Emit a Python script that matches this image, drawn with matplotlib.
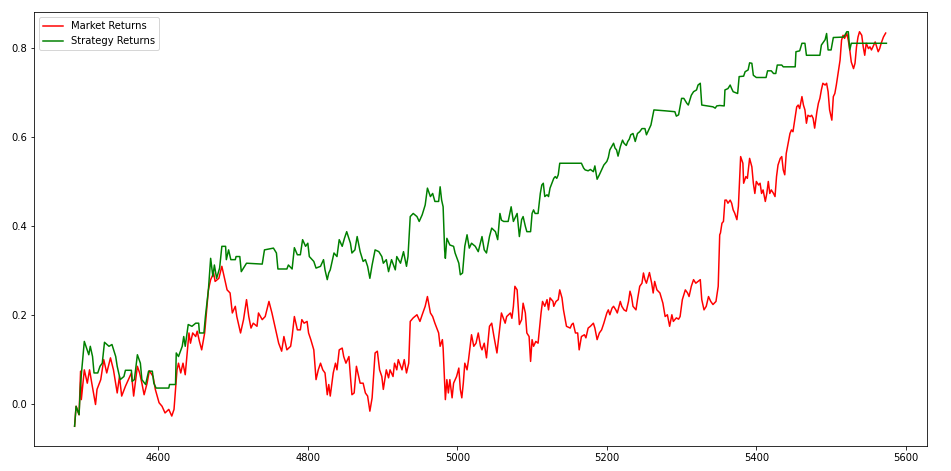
import matplotlib
matplotlib.use("Agg")
import matplotlib.pyplot as plt

# Cumulative returns (day index, return)
strategy_x = [
    4488, 4490, 4494, 4496, 4501, 4507, 4509, 4512, 4514, 4519,
    4522, 4525, 4528, 4534, 4538, 4543, 4545, 4549, 4554, 4556,
    4564, 4565, 4568, 4572, 4576, 4578, 4583, 4587, 4592, 4594,
    4597, 4614, 4615, 4623, 4624, 4627, 4632, 4634, 4636, 4640,
    4645, 4650, 4654, 4655, 4661, 4663, 4665, 4667, 4670, 4673,
    4675, 4678, 4682, 4685, 4690, 4691, 4694, 4697, 4703, 4704,
    4709, 4711, 4714, 4718, 4739, 4742, 4754, 4758, 4760, 4772,
    4774, 4779, 4782, 4786, 4790,
    4793, 4797, 4800, 4802, 4808, 4811, 4817, 4821, 4823, 4826,
    4828, 4830, 4835, 4839, 4842, 4846, 4849, 4852, 4857, 4859,
    4863, 4866, 4870, 4874, 4877, 4880, 4883, 4886, 4890, 4895,
    4899, 4901, 4905, 4908, 4912, 4917, 4919, 4924, 4928, 4932,
    4934, 4937, 4941, 4946, 4949, 4953, 4957, 4960, 4964, 4967,
    4970, 4975, 4977, 4979, 4981, 4983, 4984, 4986, 4990, 4995,
    4997, 5002, 5004, 5007, 5010, 5013, 5016, 5019, 5024, 5028,
    5033, 5036, 5039, 5043, 5046, 5051, 5054, 5057, 5059, 5062,
    5068, 5072, 5075, 5080, 5083,
    5086, 5088, 5091, 5093, 5098, 5100, 5102, 5104, 5108, 5111,
    5113, 5115, 5117, 5120, 5122, 5124, 5129, 5131, 5133, 5135,
    5137, 5166, 5169, 5171, 5175, 5178, 5182, 5184, 5187, 5190,
    5193, 5196, 5200, 5202, 5204, 5209, 5211, 5213, 5215, 5218,
    5221, 5223, 5226, 5228, 5230, 5232, 5235, 5238, 5241, 5244,
    5247, 5251, 5253, 5256, 5259, 5261, 5263, 5278, 5291, 5293,
    5296, 5298, 5300, 5303, 5307, 5309, 5311, 5313, 5316, 5320,
    5322, 5325, 5327, 5342, 5345, 5347, 5351,
    5357, 5358, 5362, 5365, 5367, 5369, 5375, 5377, 5383, 5385,
    5389, 5391, 5394, 5396, 5400, 5413, 5415, 5420, 5423, 5426,
    5428, 5434, 5436, 5452, 5453, 5458, 5461, 5465, 5467, 5485,
    5487, 5490, 5492, 5494, 5496, 5500, 5503, 5517, 5521, 5523,
    5525, 5527, 5574,
]
strategy_y = [
    -0.051, -0.006, -0.025, 0.046, 0.140, 0.110, 0.129, 0.106, 0.069, 0.069,
    0.084, 0.091, 0.138, 0.129, 0.133, 0.106, 0.084, 0.054, 0.061, 0.075,
    0.075, 0.050, 0.054, 0.110, 0.091, 0.054, 0.043, 0.073, 0.073, 0.046,
    0.035, 0.035, 0.043, 0.043, 0.114, 0.106, 0.129, 0.151, 0.129, 0.178,
    0.174, 0.181, 0.181, 0.159, 0.159, 0.196, 0.226, 0.256, 0.327, 0.286,
    0.312, 0.282, 0.305, 0.354, 0.354, 0.324, 0.346, 0.324, 0.324, 0.331,
    0.331, 0.297, 0.305, 0.316, 0.314, 0.346, 0.350, 0.339, 0.303, 0.303,
    0.312, 0.303, 0.351, 0.335, 0.335,
    0.369, 0.354, 0.361, 0.331, 0.320, 0.305, 0.309, 0.324, 0.301, 0.279,
    0.294, 0.301, 0.339, 0.331, 0.369, 0.354, 0.372, 0.387, 0.361, 0.339,
    0.346, 0.376, 0.342, 0.320, 0.324, 0.309, 0.282, 0.312, 0.346, 0.342,
    0.331, 0.316, 0.324, 0.297, 0.324, 0.301, 0.331, 0.316, 0.342, 0.309,
    0.331, 0.421, 0.428, 0.421, 0.410, 0.425, 0.447, 0.485, 0.466, 0.473,
    0.455, 0.455, 0.488, 0.458, 0.443, 0.346, 0.327, 0.372, 0.357, 0.354,
    0.339, 0.316, 0.290, 0.294, 0.354, 0.380, 0.350, 0.361, 0.354, 0.342,
    0.376, 0.346, 0.339, 0.376, 0.395, 0.387, 0.369, 0.428, 0.413, 0.410,
    0.410, 0.443, 0.410, 0.428, 0.376,
    0.414, 0.421, 0.399, 0.387, 0.387, 0.428, 0.436, 0.428, 0.428, 0.473,
    0.492, 0.496, 0.466, 0.470, 0.466, 0.485, 0.507, 0.511, 0.507, 0.515,
    0.541, 0.541, 0.530, 0.526, 0.524, 0.527, 0.522, 0.535, 0.505, 0.515,
    0.526, 0.537, 0.545, 0.554, 0.571, 0.586, 0.575, 0.571, 0.557, 0.578,
    0.593, 0.586, 0.581, 0.590, 0.595, 0.605, 0.608, 0.590, 0.608, 0.612,
    0.619, 0.619, 0.605, 0.616, 0.627, 0.644, 0.661, 0.659, 0.657, 0.647,
    0.650, 0.668, 0.687, 0.687, 0.676, 0.672, 0.683, 0.694, 0.702, 0.706,
    0.717, 0.721, 0.672, 0.668, 0.665, 0.670, 0.671,
    0.670, 0.706, 0.709, 0.717, 0.709, 0.702, 0.698, 0.736, 0.737, 0.747,
    0.751, 0.767, 0.766, 0.739, 0.734, 0.734, 0.749, 0.749, 0.743, 0.743,
    0.762, 0.762, 0.758, 0.758, 0.792, 0.794, 0.811, 0.811, 0.784, 0.784,
    0.807, 0.814, 0.819, 0.833, 0.796, 0.796, 0.824, 0.825, 0.837, 0.837,
    0.796, 0.811, 0.811,
]

market_x = [
    4488, 4490, 4494, 4496, 4497, 4501, 4505, 4508, 4511, 4516,
    4518, 4523, 4527, 4531, 4536, 4540, 4545, 4548, 4551, 4556,
    4560, 4564, 4567, 4572, 4575, 4578, 4581, 4585, 4588, 4593,
    4596, 4601, 4605, 4609, 4614, 4618, 4621, 4625, 4627, 4630,
    4633, 4636, 4641, 4643, 4646, 4650, 4652, 4655, 4658, 4662,
    4667, 4670, 4674, 4676, 4681, 4685, 4688, 4692, 4696, 4699,
    4703, 4705, 4710, 4714, 4718, 4721, 4724, 4727, 4732, 4734,
    4739, 4743, 4748, 4752, 4756, 4761, 4765, 4768, 4772, 4777,
    4779, 4782, 4786, 4790,
    4792, 4795, 4799, 4801, 4804, 4808, 4811, 4814, 4817, 4820,
    4823, 4826, 4828, 4830, 4834, 4837, 4839, 4842, 4846, 4848,
    4851, 4855, 4857, 4859, 4862, 4865, 4868, 4870, 4874, 4877,
    4880, 4883, 4886, 4890, 4893, 4896, 4899, 4901, 4905, 4908,
    4910, 4914, 4916, 4919, 4921, 4926, 4929, 4932, 4935, 4937,
    4941, 4946, 4950, 4953, 4957, 4960, 4964, 4967, 4970, 4975,
    4977, 4980, 4981, 4984, 4986, 4988, 4990, 4993, 4995, 4999,
    5002, 5004, 5006, 5008, 5010, 5013, 5015, 5019, 5022, 5025,
    5028, 5031, 5033, 5036, 5039, 5043, 5046, 5049, 5053, 5055,
    5059, 5064, 5066, 5071, 5073, 5075, 5077, 5080, 5083,
    5086, 5088, 5091, 5093, 5096, 5098, 5100, 5102, 5105, 5108,
    5112, 5114, 5117, 5120, 5122, 5124, 5128, 5129, 5132, 5135,
    5137, 5140, 5142, 5146, 5151, 5153, 5155, 5158, 5161, 5163,
    5166, 5170, 5172, 5175, 5178, 5182, 5184, 5187, 5190, 5193,
    5196, 5200, 5202, 5204, 5207, 5209, 5212, 5214, 5218, 5220,
    5223, 5226, 5229, 5231, 5233, 5235, 5239, 5241, 5244, 5247,
    5249, 5251, 5253, 5257, 5260, 5262, 5264, 5267, 5271, 5275,
    5278, 5281, 5284, 5287, 5289, 5293, 5296, 5298, 5301, 5305,
    5308, 5310, 5313, 5316, 5319, 5325, 5327, 5330, 5333, 5336,
    5339, 5342, 5346, 5349,
    5351, 5352, 5354, 5356, 5358, 5360, 5362, 5365, 5367, 5369,
    5371, 5374, 5376, 5378, 5379, 5382, 5383, 5386, 5388, 5391,
    5394, 5396, 5398, 5400, 5403, 5405, 5407, 5409, 5412, 5414,
    5416, 5418, 5420, 5423, 5425, 5427, 5429, 5432, 5434, 5436,
    5438, 5440, 5443, 5445, 5447, 5449, 5452, 5454, 5456, 5458,
    5461, 5463, 5465, 5467, 5469, 5472, 5474, 5476, 5478, 5481,
    5483, 5485, 5487, 5489, 5492, 5494, 5496, 5498, 5501, 5503,
    5505, 5507, 5510, 5512, 5514, 5516, 5518, 5521, 5523, 5525,
    5527, 5530, 5532, 5534, 5536, 5538, 5541, 5543, 5545, 5547,
    5550, 5552, 5554, 5556, 5559, 5561, 5563, 5565, 5567, 5570,
    5573,
]
market_y = [
    -0.051, -0.006, -0.025, 0.073, 0.009, 0.076, 0.046, 0.076, 0.046, -0.002,
    0.032, 0.054, 0.099, 0.069, 0.103, 0.076, 0.024, 0.061, 0.017, 0.039,
    0.054, 0.069, 0.017, 0.084, 0.069, 0.046, 0.020, 0.046, 0.074, 0.061,
    0.032, 0.002, -0.006, -0.021, -0.013, -0.028, -0.013, 0.076, 0.091, 0.069,
    0.091, 0.065, 0.159, 0.136, 0.159, 0.151, 0.163, 0.140, 0.121, 0.159,
    0.256, 0.279, 0.294, 0.275, 0.282, 0.309, 0.286, 0.256, 0.249, 0.204,
    0.219, 0.196, 0.159, 0.189, 0.234, 0.196, 0.170, 0.181, 0.174, 0.204,
    0.189, 0.196, 0.230, 0.204, 0.174, 0.136, 0.118, 0.151, 0.121, 0.129,
    0.151, 0.196, 0.166, 0.166,
    0.189, 0.181, 0.185, 0.159, 0.144, 0.121, 0.054, 0.076, 0.091, 0.076,
    0.069, 0.020, 0.043, 0.017, 0.069, 0.091, 0.076, 0.121, 0.125, 0.106,
    0.091, 0.106, 0.061, 0.020, 0.024, 0.084, 0.061, 0.046, 0.046, 0.024,
    0.017, -0.017, 0.013, 0.114, 0.118, 0.076, 0.061, 0.032, 0.076, 0.058,
    0.076, 0.061, 0.091, 0.076, 0.099, 0.076, 0.099, 0.069, 0.091, 0.185,
    0.193, 0.200, 0.185, 0.200, 0.219, 0.241, 0.204, 0.196, 0.181, 0.159,
    0.129, 0.144, 0.125, 0.009, 0.054, 0.024, 0.054, 0.013, 0.046, 0.061,
    0.080, 0.032, 0.013, 0.046, 0.091, 0.076, 0.099, 0.155, 0.129, 0.136,
    0.159, 0.129, 0.121, 0.136, 0.103, 0.174, 0.181, 0.151, 0.114, 0.144,
    0.204, 0.181, 0.196, 0.204, 0.192, 0.219, 0.264, 0.256, 0.178,
    0.189, 0.226, 0.204, 0.159, 0.151, 0.095, 0.144, 0.129, 0.140, 0.136,
    0.204, 0.230, 0.219, 0.234, 0.211, 0.238, 0.230, 0.219, 0.230, 0.234,
    0.256, 0.238, 0.211, 0.174, 0.170, 0.178, 0.181, 0.159, 0.159, 0.121,
    0.151, 0.155, 0.148, 0.170, 0.174, 0.181, 0.170, 0.144, 0.159, 0.166,
    0.181, 0.204, 0.211, 0.200, 0.215, 0.219, 0.211, 0.204, 0.230, 0.219,
    0.211, 0.208, 0.230, 0.253, 0.241, 0.219, 0.211, 0.234, 0.264, 0.271,
    0.294, 0.279, 0.271, 0.295, 0.271, 0.249, 0.275, 0.256, 0.249, 0.226,
    0.196, 0.200, 0.174, 0.200, 0.185, 0.193, 0.190, 0.196, 0.234, 0.256,
    0.249, 0.241, 0.264, 0.279, 0.271, 0.279, 0.234, 0.211, 0.219, 0.241,
    0.230, 0.223, 0.230, 0.264,
    0.380, 0.384, 0.406, 0.410, 0.458, 0.458, 0.451, 0.458, 0.451, 0.436,
    0.429, 0.414, 0.444, 0.518, 0.556, 0.541, 0.496, 0.511, 0.507, 0.552,
    0.533, 0.496, 0.473, 0.500, 0.492, 0.496, 0.473, 0.481, 0.455, 0.473,
    0.500, 0.473, 0.481, 0.473, 0.466, 0.511, 0.537, 0.552, 0.556, 0.526,
    0.515, 0.563, 0.590, 0.608, 0.616, 0.612, 0.646, 0.668, 0.672, 0.664,
    0.691, 0.672, 0.661, 0.631, 0.649, 0.646, 0.649, 0.642, 0.620, 0.657,
    0.676, 0.687, 0.706, 0.721, 0.717, 0.721, 0.702, 0.661, 0.638, 0.691,
    0.698, 0.717, 0.751, 0.773, 0.818, 0.829, 0.822, 0.833, 0.818, 0.796,
    0.769, 0.754, 0.766, 0.803, 0.825, 0.837, 0.829, 0.803, 0.784, 0.811,
    0.799, 0.803, 0.796, 0.803, 0.814, 0.803, 0.792, 0.799, 0.811, 0.825,
    0.834,
]

# Plot
dpi = 72
fig = plt.figure(figsize=(951 / dpi, 471 / dpi), dpi=dpi)
ax = fig.add_axes([34 / 951, 25 / 471, 893 / 951, 434 / 471])
ax.plot(market_x, market_y, color='r', linewidth=1.5, label='Market Returns')
ax.plot(strategy_x, strategy_y, color='g', linewidth=1.5, label='Strategy Returns')
ax.tick_params(labelsize=10)
ax.legend(loc='upper left', fontsize=10)
fig.savefig('out.png', dpi=dpi)
